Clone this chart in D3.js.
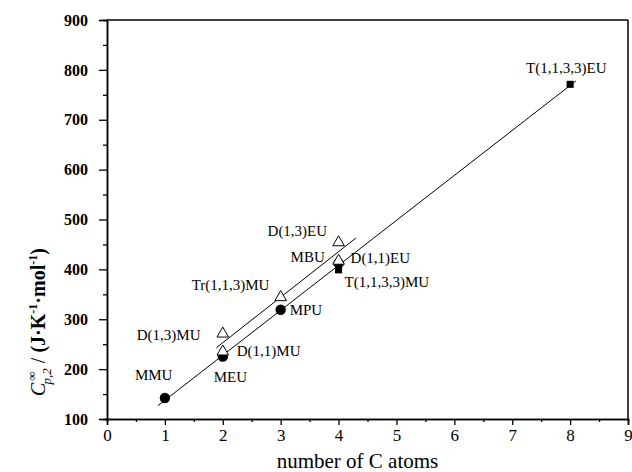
<!DOCTYPE html>
<html>
<head>
<meta charset="utf-8"/>
<style>
  body { margin: 0; background: #fff; }
  svg text { font-family: "Liberation Serif", "Times New Roman", Times, "DejaVu Serif", serif; }
</style>
</head>
<body>
<div id="chart"></div>
<script src="https://cdn.jsdelivr.net/npm/d3@7"></script>
<script>

// ---- data ----
// series 1: filled markers (circles = MxU, squares = T(...)U)
var s1Names  = ["MMU", "MEU", "MPU", "MBU", "T(1,1,3,3)MU", "T(1,1,3,3)EU"];
var s1Carbon = [1, 2, 3, 4, 4, 8];
var s1Cp     = [142, 225, 319, 412, 399, 771];
var s1Shape  = ["circle", "circle", "circle", "circle", "square", "square"];

// series 2: open triangles
var s2Names  = ["D(1,1)MU", "D(1,3)MU", "Tr(1,1,3)MU", "D(1,1)EU", "D(1,3)EU"];
var s2Carbon = [2, 2, 3, 4, 4];
var s2Cp     = [235, 271, 344, 417, 454];

// fitted line extents (x range)
var fit1Range = [0.88, 8.1];
var fit2Range = [1.89, 4.3];

var xTicks = [0, 1, 2, 3, 4, 5, 6, 7, 8, 9];
var yTicks = [100, 200, 300, 400, 500, 600, 700, 800, 900];

// label offsets in pixels relative to the point (layout only)
var labelPos = {
  "MMU":          [-30, -18],
  "MEU":          [-9, 25],
  "MPU":          [9, 5],
  "MBU":          [-48, -1],
  "T(1,1,3,3)MU": [6, 17],
  "T(1,1,3,3)EU": [-44, -11],
  "D(1,1)MU":     [14, 4],
  "D(1,3)MU":     [-86, 6],
  "Tr(1,1,3)MU":  [-89, -7],
  "D(1,1)EU":     [12, 2],
  "D(1,3)EU":     [-71, -6]
};

var W = 632, H = 472;
var margin = {left: 107, right: 4, top: 20, bottom: 53};

var svg = d3.select("#chart").append("svg")
  .attr("width", W).attr("height", H);

var x = d3.scaleLinear().domain([0, 9]).range([margin.left, W - margin.right]);
var y = d3.scaleLinear().domain([100, 900]).range([H - margin.bottom, margin.top]);

// least-squares fit
function fit(xs, ys) {
  var n = xs.length, mx = d3.mean(xs), my = d3.mean(ys);
  var sxy = 0, sxx = 0;
  for (var i = 0; i < n; i++) {
    sxy += (xs[i] - mx) * (ys[i] - my);
    sxx += (xs[i] - mx) * (xs[i] - mx);
  }
  var b = sxy / sxx;
  return {a: my - b * mx, b: b};
}

function drawFit(xs, ys, range) {
  var f = fit(xs, ys);
  svg.append("line")
    .attr("x1", x(range[0])).attr("y1", y(f.a + f.b * range[0]))
    .attr("x2", x(range[1])).attr("y2", y(f.a + f.b * range[1]))
    .attr("stroke", "#000").attr("stroke-width", 1);
}
drawFit(s1Carbon, s1Cp, fit1Range);
drawFit(s2Carbon, s2Cp, fit2Range);

// axes
var xMinor = d3.range(0.5, 9, 1);
var yMinor = d3.range(150, 900, 100);

var gx = svg.append("g").attr("transform", "translate(0," + y(100) + ")");
gx.call(d3.axisBottom(x).tickValues(xMinor).tickSize(3).tickFormat(""));
gx.append("g").call(d3.axisBottom(x).tickValues(xTicks).tickSize(6).tickPadding(4).tickFormat(d3.format("d")));

var gy = svg.append("g").attr("transform", "translate(" + x(0) + ",0)");
gy.call(d3.axisLeft(y).tickValues(yMinor).tickSize(4).tickFormat(""));
gy.append("g").call(d3.axisLeft(y).tickValues(yTicks).tickSize(8).tickPadding(11).tickFormat(d3.format("d")));

svg.selectAll(".domain").attr("stroke-width", 1.5);
svg.selectAll(".tick line").attr("stroke-width", 1.3);
svg.selectAll(".tick text")
  .attr("font-size", 17)
  .attr("fill", "#000");
gy.selectAll(".tick text").attr("font-weight", "bold").attr("font-size", 16);

// frame top/right
svg.append("line").attr("x1", x(0)).attr("x2", x(9)).attr("y1", y(900)).attr("y2", y(900))
  .attr("stroke", "#000").attr("stroke-width", 1.5);
svg.append("line").attr("x1", x(9)).attr("x2", x(9)).attr("y1", y(900)).attr("y2", y(100))
  .attr("stroke", "#000").attr("stroke-width", 1.5);

// filled markers
svg.selectAll(".s1").data(d3.range(s1Names.length)).enter()
  .append("path")
  .attr("transform", function(i) { return "translate(" + x(s1Carbon[i]) + "," + y(s1Cp[i]) + ")"; })
  .attr("d", function(i) {
    return s1Shape[i] == "circle"
      ? d3.symbol().type(d3.symbolCircle).size(85)()
      : d3.symbol().type(d3.symbolSquare).size(50)();
  })
  .attr("fill", "#000");

// open triangles on top
var tri = d3.symbol().type(d3.symbolTriangle).size(58);
svg.selectAll(".tri").data(d3.range(s2Names.length)).enter()
  .append("path")
  .attr("transform", function(i) { return "translate(" + x(s2Carbon[i]) + "," + y(s2Cp[i]) + ")"; })
  .attr("d", tri)
  .attr("fill", "#fff").attr("stroke", "#000").attr("stroke-width", 1);

// labels
function addLabel(name, cx, cy) {
  var o = labelPos[name];
  svg.append("text")
    .attr("x", x(cx) + o[0]).attr("y", y(cy) + o[1])
    .attr("font-size", 15)
    .attr("fill", "#000")
    .text(name);
}
s1Names.forEach(function(n, i) { addLabel(n, s1Carbon[i], s1Cp[i]); });
s2Names.forEach(function(n, i) { addLabel(n, s2Carbon[i], s2Cp[i]); });

// axis titles
svg.append("text")
  .attr("x", (x(0) + x(9)) / 2 - 10).attr("y", 468)
  .attr("text-anchor", "middle")
  .attr("font-size", 21)
  .text("number of C atoms");

var yt = svg.append("text")
  .attr("transform", "translate(45," + 396 + ") rotate(-90)")
  .attr("font-size", 20)
  .attr("font-weight", "bold");
yt.append("tspan").attr("font-style", "italic").attr("font-weight", "normal").text("C");
yt.append("tspan").attr("font-size", 13).attr("dy", -9).attr("dx", 2).text("\u221E");
yt.append("tspan").attr("font-size", 13).attr("font-style", "italic").attr("font-weight", "normal").attr("dy", 15).attr("dx", -13).text("p,2");
yt.append("tspan").attr("dy", -6).attr("dx", 5).attr("font-weight", "normal").text("/ ");
yt.append("tspan").text("(J\u00B7K");
yt.append("tspan").attr("font-size", 12).attr("dy", -8).text("-1");
yt.append("tspan").attr("dy", 8).text("\u00B7mol");
yt.append("tspan").attr("font-size", 12).attr("dy", -8).text("-1");
yt.append("tspan").attr("dy", 8).text(")");

</script>
</body>
</html>
